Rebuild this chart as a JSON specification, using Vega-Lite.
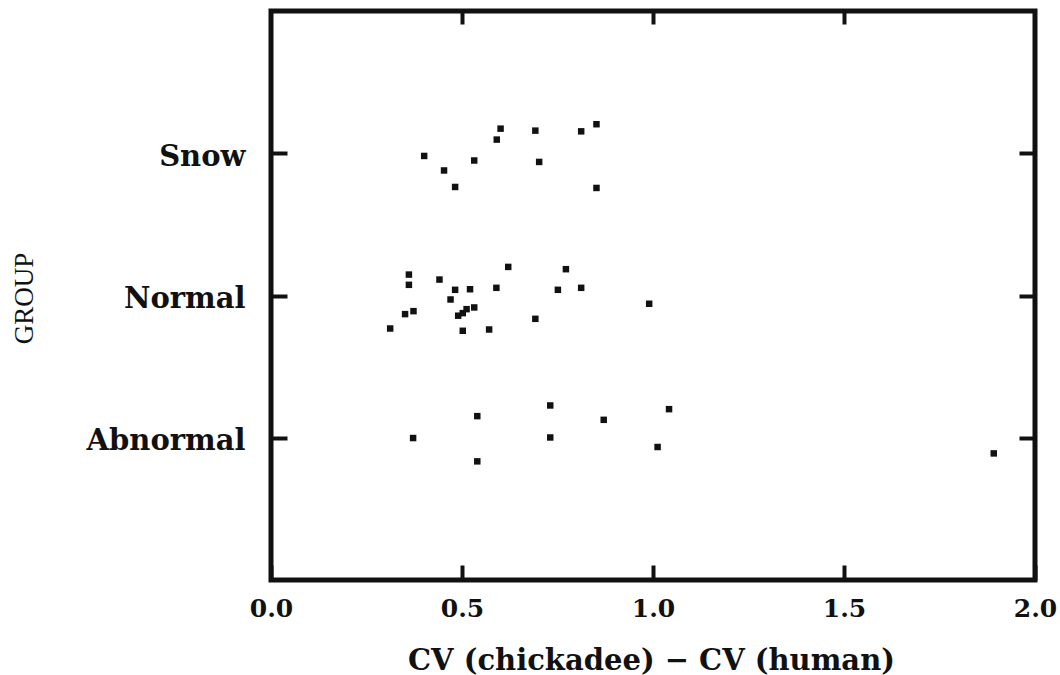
{
  "$schema": "https://vega.github.io/schema/vega-lite/v6.json",
  "width": 764,
  "height": 569,
  "autosize": {"type": "none"},
  "padding": {"left": 271, "top": 11, "right": 25, "bottom": 95},
  "background": "white",
  "config": {
    "view": {"stroke": "#111", "strokeWidth": 5},
    "axis": {"grid": false, "domain": false, "tickColor": "#111", "tickWidth": 4, "labelColor": "#111", "titleColor": "#111", "labelFlush": false}
  },
  "data": {
    "values": [
      {"group": "Snow", "cv": 0.401, "pos": 2.981},
      {"group": "Snow", "cv": 0.453, "pos": 2.879},
      {"group": "Snow", "cv": 0.482, "pos": 2.763},
      {"group": "Snow", "cv": 0.532, "pos": 2.949},
      {"group": "Snow", "cv": 0.591, "pos": 3.096},
      {"group": "Snow", "cv": 0.601, "pos": 3.173},
      {"group": "Snow", "cv": 0.692, "pos": 3.159},
      {"group": "Snow", "cv": 0.702, "pos": 2.939},
      {"group": "Snow", "cv": 0.812, "pos": 3.154},
      {"group": "Snow", "cv": 0.852, "pos": 3.204},
      {"group": "Snow", "cv": 0.852, "pos": 2.756},
      {"group": "Normal", "cv": 0.361, "pos": 2.147},
      {"group": "Normal", "cv": 0.361, "pos": 2.075},
      {"group": "Normal", "cv": 0.441, "pos": 2.112},
      {"group": "Normal", "cv": 0.482, "pos": 2.040},
      {"group": "Normal", "cv": 0.521, "pos": 2.044},
      {"group": "Normal", "cv": 0.470, "pos": 1.972},
      {"group": "Normal", "cv": 0.621, "pos": 2.201},
      {"group": "Normal", "cv": 0.590, "pos": 2.054},
      {"group": "Normal", "cv": 0.772, "pos": 2.185},
      {"group": "Normal", "cv": 0.751, "pos": 2.040},
      {"group": "Normal", "cv": 0.812, "pos": 2.054},
      {"group": "Normal", "cv": 0.990, "pos": 1.942},
      {"group": "Normal", "cv": 0.351, "pos": 1.869},
      {"group": "Normal", "cv": 0.373, "pos": 1.890},
      {"group": "Normal", "cv": 0.312, "pos": 1.768},
      {"group": "Normal", "cv": 0.490, "pos": 1.858},
      {"group": "Normal", "cv": 0.502, "pos": 1.876},
      {"group": "Normal", "cv": 0.512, "pos": 1.904},
      {"group": "Normal", "cv": 0.532, "pos": 1.916},
      {"group": "Normal", "cv": 0.502, "pos": 1.752},
      {"group": "Normal", "cv": 0.571, "pos": 1.761},
      {"group": "Normal", "cv": 0.692, "pos": 1.836},
      {"group": "Abnormal", "cv": 0.372, "pos": 0.998},
      {"group": "Abnormal", "cv": 0.540, "pos": 1.152},
      {"group": "Abnormal", "cv": 0.540, "pos": 0.834},
      {"group": "Abnormal", "cv": 0.731, "pos": 1.227},
      {"group": "Abnormal", "cv": 0.731, "pos": 1.002},
      {"group": "Abnormal", "cv": 0.871, "pos": 1.126},
      {"group": "Abnormal", "cv": 1.012, "pos": 0.935},
      {"group": "Abnormal", "cv": 1.042, "pos": 1.201},
      {"group": "Abnormal", "cv": 1.892, "pos": 0.890}
    ]
  },
  "layer": [
    {
      "mark": {"type": "point", "shape": "square", "filled": true, "color": "#111", "opacity": 1, "size": 42},
      "encoding": {
        "x": {
          "field": "cv", "type": "quantitative",
          "scale": {"domain": [0, 2], "nice": false, "zero": false},
          "axis": {
            "orient": "bottom", "values": [0, 0.5, 1, 1.5, 2], "format": ".1f",
            "tickSize": -15, "labelPadding": 31,
            "labelFont": "DejaVu Serif", "labelFontWeight": "bold", "labelFontSize": 25,
            "title": "CV (chickadee) − CV (human)",
            "titleFont": "DejaVu Serif", "titleFontWeight": "bold", "titleFontSize": 29,
            "titleX": 380, "titleY": 80, "titleBaseline": "middle", "titleAlign": "center"
          }
        },
        "y": {
          "field": "pos", "type": "quantitative",
          "scale": {"domain": [0, 4], "nice": false, "zero": false},
          "axis": {
            "orient": "left", "values": [1, 2, 3],
            "labelExpr": "datum.value == 1 ? 'Abnormal' : datum.value == 2 ? 'Normal' : 'Snow'",
            "tickSize": -16, "labelPadding": 42,
            "labelFont": "DejaVu Serif", "labelFontWeight": "bold", "labelFontSize": 29,
            "labelBaseline": "middle", "labelOffset": 3,
            "title": "GROUP",
            "titleFont": "Liberation Serif", "titleFontWeight": "normal", "titleFontSize": 27,
            "titleAngle": -90, "titleX": -247, "titleY": 287, "titleBaseline": "middle", "titleAlign": "center"
          }
        }
      }
    },
    {
      "mark": {"type": "point", "shape": "square", "filled": true, "opacity": 0, "size": 42},
      "encoding": {
        "x": {
          "field": "cv", "type": "quantitative",
          "axis": {"orient": "top", "values": [0.5, 1, 1.5], "tickSize": -13, "labels": false, "title": null}
        },
        "y": {
          "field": "pos", "type": "quantitative",
          "axis": {"orient": "right", "values": [1, 2, 3], "tickSize": -16, "labels": false, "title": null}
        }
      }
    }
  ],
  "resolve": {"axis": {"x": "independent", "y": "independent"}}
}
